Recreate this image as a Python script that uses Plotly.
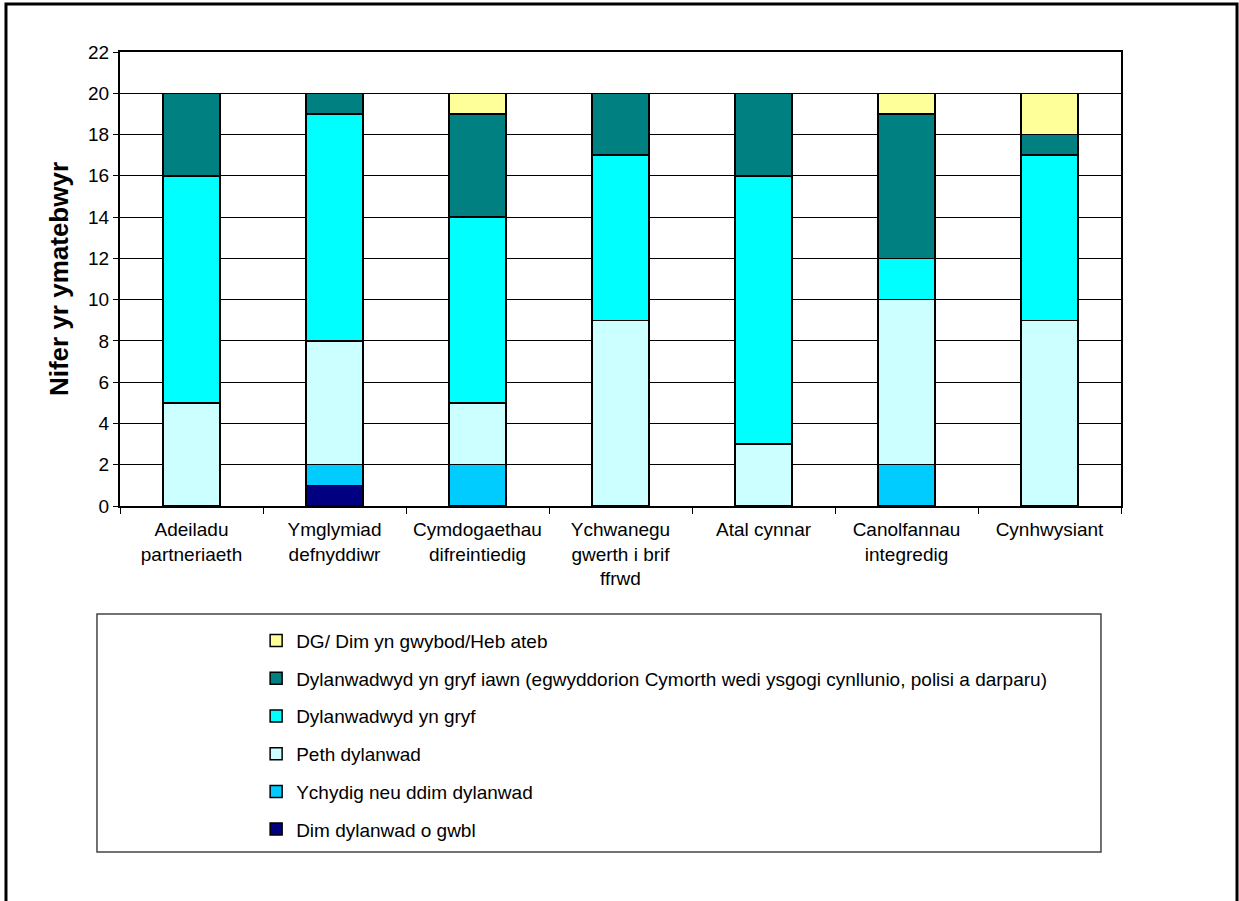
import plotly.graph_objects as go

categories = [
    "Adeiladu<br>partneriaeth",
    "Ymglymiad<br>defnyddiwr",
    "Cymdogaethau<br>difreintiedig",
    "Ychwanegu<br>gwerth i brif<br>ffrwd",
    "Atal cynnar",
    "Canolfannau<br>integredig",
    "Cynhwysiant",
]

# bottom to top in the stack
series_names = [
    "Dim dylanwad o gwbl",
    "Ychydig neu ddim dylanwad",
    "Peth dylanwad",
    "Dylanwadwyd yn gryf",
    "Dylanwadwyd yn gryf iawn (egwyddorion Cymorth wedi ysgogi cynllunio, polisi a darparu)",
    "DG/ Dim yn gwybod/Heb ateb",
]
dim_dylanwad = [0, 1, 0, 0, 0, 0, 0]
ychydig = [0, 1, 2, 0, 0, 2, 0]
peth = [5, 6, 3, 9, 3, 8, 9]
cryf = [11, 11, 9, 8, 13, 2, 8]
cryf_iawn = [4, 1, 5, 3, 4, 7, 1]
dg = [0, 0, 1, 0, 0, 1, 2]
series_values = [dim_dylanwad, ychydig, peth, cryf, cryf_iawn, dg]
colors = ["#000080", "#00CCFF", "#CCFFFF", "#00FFFF", "#008080", "#FFFF99"]

fig = go.Figure()
n = len(series_names)
for i, (name, vals, col) in enumerate(zip(series_names, series_values, colors)):
    fig.add_trace(go.Bar(
        x=categories, y=vals, name=name, legendgroup=f"g{i}",
        legendrank=n - i,
        marker=dict(color=col, line=dict(color="black", width=1.5)),
        width=0.4,
    ))

font = "Liberation Sans, Arial, sans-serif"
fig.update_layout(
    barmode="stack",
    width=1239, height=901,
    margin=dict(l=120, r=118, t=52, b=395),
    plot_bgcolor="white", paper_bgcolor="white",
    font=dict(family=font, size=19, color="black"),
    showlegend=True,
    legend=dict(
        x=0.136, y=-0.255, xanchor="left", yanchor="top",
        traceorder="grouped", tracegroupgap=10,
        font=dict(size=19), bgcolor="rgba(0,0,0,0)",
        itemwidth=30,
    ),
    xaxis=dict(
        showline=True, linecolor="black", linewidth=2, mirror=True,
        ticks="outside", tickson="boundaries", ticklen=6, tickcolor="black",
        tickfont=dict(size=19), ticklabelstandoff=5,
    ),
    yaxis=dict(
        range=[0, 22], dtick=2, showgrid=True, gridcolor="black", gridwidth=1,
        showline=True, linecolor="black", linewidth=2, mirror=True,
        ticks="outside", ticklen=5, tickcolor="black",
        tickfont=dict(size=19),
        title=dict(text="<b>Nifer yr ymatebwyr</b>", font=dict(size=26), standoff=12),
    ),
    shapes=[
        dict(type="rect", xref="paper", yref="paper",
             x0=-0.023, x1=0.98, y0=-0.762, y1=-0.238,
             line=dict(color="#444444", width=1.5)),
        dict(type="rect", xref="paper", yref="paper",
             x0=-0.1139, x1=1.1159, y0=-1.2, y1=1.1057,
             line=dict(color="black", width=3)),
    ],
)

fig.write_html("out.html", config={"displayModeBar": False},
               post_script="document.body.style.margin='0';")
